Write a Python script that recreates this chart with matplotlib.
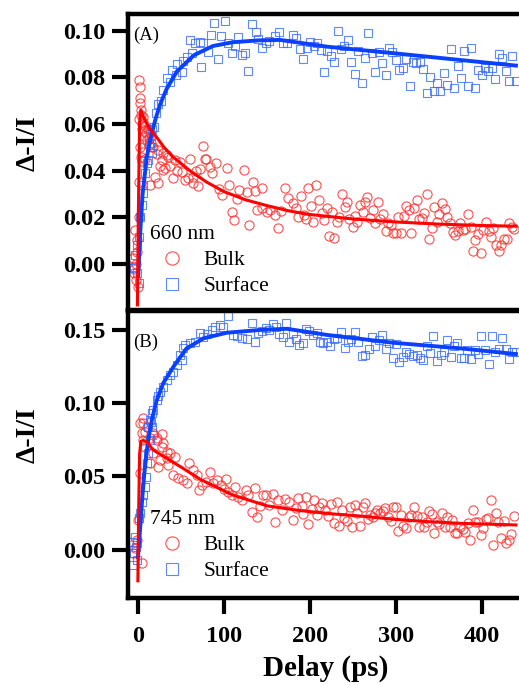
import matplotlib
matplotlib.use("Agg")
import matplotlib.pyplot as plt
from matplotlib.ticker import FormatStrFormatter

plt.rcParams['font.family'] = ['Liberation Serif', 'DejaVu Serif']

# ---------------- Panel A : 660 nm ----------------
a_surf_t = [-5.8, -4.6, -3.8, -1.9, -1.1, 1.2, 1.2, 2.0, 3.9, 5.1, 5.9, 7.8, 9.8, 11.7, 12.5,
            13.6, 14.5, 15.6, 16.5, 18.3, 20.6, 23.3, 26.0, 29.2, 33.1, 36.5, 39.7, 43.5, 45.5,
            50.5, 52.5, 56.4, 60.2, 62.2, 66.1, 71.9, 72.7, 75.8, 80.8, 84.3, 88.6, 93.2, 96.0,
            101.0, 104.9, 108.8, 112.7, 116.5, 120.4, 124.3, 128.2, 132.9, 136.7, 140.0,
            143.7, 148.8, 152.7, 159.3, 164.3, 168.2, 172.9, 179.9, 183.7, 188.4, 192.3, 196.2,
            200.0, 204.7, 208.6, 212.5, 216.4, 220.2, 224.1, 228.0, 232.3, 236.2, 240.0, 243.9,
            248.2, 252.1, 256.4, 260.2, 264.1, 268.0, 272.3, 276.2, 280.0, 283.9, 288.2, 292.1,
            296.0, 300.2, 304.1, 308.0, 311.9, 316.1, 320.0, 323.9, 327.8, 332.1, 336.0, 339.8,
            344.1, 348.0, 351.9, 355.8, 360.0, 363.9, 367.8, 372.1, 375.9, 379.8, 383.7, 388.0,
            391.9, 396.1, 400.0, 403.9, 407.8, 411.7, 415.9, 419.8, 423.7, 428.0, 431.9, 435.7,
            439.6]
a_surf_v = [-0.0019, -0.0012, 0.0038, -0.0040, 0.0081, 0.0117, -0.0083, 0.0203, 0.0253, 0.0303,
            0.0338, 0.0388, 0.0431, 0.0445, 0.0520, 0.0502, 0.0550, 0.0474, 0.0580, 0.0588,
            0.0648, 0.0685, 0.0700, 0.0745, 0.0795, 0.0780, 0.0831, 0.0810, 0.0857, 0.0824,
            0.0871, 0.0888, 0.0960, 0.0903, 0.0945, 0.0953, 0.0843, 0.0948, 0.0910, 0.0981,
            0.1034, 0.0877, 0.0977, 0.1042, 0.0948, 0.0905, 0.0935, 0.0971, 0.0895, 0.0903,
            0.0828, 0.1028, 0.0992, 0.0965,
            0.0924, 0.0945, 0.0957, 0.0977, 0.0992, 0.0945, 0.0948, 0.0982, 0.0970, 0.0921,
            0.0877, 0.0927, 0.0952, 0.0934, 0.0948, 0.0917, 0.0824, 0.0914, 0.0891, 0.0867,
            0.0999, 0.0921, 0.0934, 0.0960, 0.0867, 0.0814, 0.0914, 0.0777, 0.0884, 0.0991,
            0.0903, 0.0824, 0.0910, 0.0860, 0.0810, 0.0924, 0.0910, 0.0874, 0.0831, 0.0841,
            0.0878, 0.0764, 0.0867, 0.0860, 0.0867, 0.0834, 0.0731, 0.0800, 0.0741, 0.0774,
            0.0741, 0.0820, 0.0767, 0.0921, 0.0753, 0.0848, 0.0798, 0.0914, 0.0764, 0.0924,
            0.0755, 0.0831, 0.0810, 0.0841, 0.0828, 0.0838, 0.0793, 0.0898, 0.0884, 0.0827,
            0.0785, 0.0893, 0.0785]

a_bulk_t = [-5.8, -5.0, -4.5, -3.8, -3.0, -2.5, -1.9, -1.2, 0.0, 0.5, 1.0, 1.0, 1.2, 1.5, 2.0,
            2.2, 2.5, 3.0, 3.2, 3.5, 4.0, 4.2, 4.5, 5.0, 5.5, 6.0, 6.5, 7.0, 7.5, 8.0, 9.0, 10.0,
            11.0, 12.0, 13.0, 13.6, 14.0, 15.0, 16.0, 17.5, 19.5, 21.5, 23.4, 23.4, 25.5, 27.2,
            29.2, 29.2, 31.1, 33.1, 35.0, 37.0, 40.1, 42.8, 44.7, 48.6, 50.5, 54.4, 58.3, 60.2,
            63.3, 64.1, 67.0, 70.0, 71.9, 75.8, 77.7, 78.9, 83.5, 85.5, 90.5, 94.4, 97.1, 103.0,
            106.1, 108.8, 111.5, 114.6, 117.7, 123.1, 126.2, 129.4, 133.2, 136.0, 137.9,
            143.7, 143.7, 149.6, 153.4, 159.3, 163.2, 165.9, 170.9, 174.8, 179.9, 183.7, 186.5,
            189.2, 193.1, 195.4, 198.1, 200.8, 203.9, 207.0, 210.9, 213.6, 216.4, 219.5, 222.6,
            225.3, 228.0, 231.1, 234.2, 236.9, 240.8, 243.5, 245.9, 249.7, 252.5, 255.2, 258.3,
            261.4, 264.1, 266.8, 269.9, 273.0, 276.2, 278.9, 281.6, 285.5, 288.2, 291.3, 294.0,
            297.1, 300.2, 303.0, 306.0, 309.5, 311.9, 315.0, 318.1, 321.2, 324.3, 327.4, 330.5,
            332.8, 336.0, 339.1, 341.8, 344.5, 347.6, 350.7, 353.8, 357.3, 360.0, 363.1, 366.2,
            369.3, 372.5, 374.8, 377.9, 380.6, 383.7, 387.2, 389.5, 392.3, 395.4, 398.9, 402.0,
            405.1, 408.2, 410.5, 413.6, 416.7, 419.8, 422.9, 426.0, 429.1, 432.2, 435.4, 438.1]
a_bulk_v = [0.0024, -0.0020, -0.0040, 0.0145, -0.0070, 0.0000, 0.0103, 0.0050, -0.0097, 0.0200,
            0.0350, 0.0790, 0.0620, 0.0760, 0.0710, 0.0500, 0.0690, 0.0660, 0.0460, 0.0640,
            0.0600, 0.0440, 0.0580, 0.0630, 0.0480, 0.0610, 0.0570, 0.0550, 0.0450, 0.0590,
            0.0560, 0.0530, 0.0580, 0.0540, 0.0510, 0.0338, 0.0560, 0.0520, 0.0500, 0.0502,
            0.0374, 0.0470, 0.0488, 0.0345, 0.0420, 0.0445, 0.0474, 0.0403, 0.0410, 0.0467,
            0.0460, 0.0420, 0.0367, 0.0445, 0.0400, 0.0438, 0.0395, 0.0362, 0.0367, 0.0448,
            0.0345, 0.0374, 0.0400, 0.0334, 0.0405, 0.0506, 0.0448, 0.0448, 0.0417, 0.0388,
            0.0434, 0.0320, 0.0295, 0.0410, 0.0338, 0.0224, 0.0188, 0.0277, 0.0317, 0.0402,
            0.0310, 0.0167, 0.0352, 0.0313, 0.0231,
            0.0327, 0.0238, 0.0224, 0.0231, 0.0210, 0.0153, 0.0228, 0.0327, 0.0281, 0.0263,
            0.0238, 0.0203, 0.0291, 0.0210, 0.0191, 0.0324, 0.0248, 0.0181, 0.0338, 0.0274,
            0.0220, 0.0188, 0.0238, 0.0120, 0.0224, 0.0113, 0.0181, 0.0200, 0.0298, 0.0243,
            0.0267, 0.0191, 0.0157, 0.0205, 0.0181, 0.0253, 0.0224, 0.0267, 0.0285, 0.0195,
            0.0231, 0.0174, 0.0267, 0.0191, 0.0214, 0.0143, 0.0174, 0.0167, 0.0134, 0.0134,
            0.0203, 0.0134, 0.0205, 0.0248, 0.0231, 0.0134, 0.0238, 0.0274, 0.0191, 0.0195,
            0.0217, 0.0298, 0.0108, 0.0153, 0.0245, 0.0181, 0.0214, 0.0263, 0.0234, 0.0203,
            0.0177, 0.0138, 0.0124, 0.0143, 0.0177, 0.0146, 0.0148, 0.0214, 0.0157, 0.0055,
            0.0105, 0.0128, 0.0048, 0.0146, 0.0180, 0.0143, 0.0114, 0.0153, 0.0081, 0.0055,
            0.0081, 0.0108, 0.0108, 0.0177, 0.0160, 0.0148]

a_surf_fit_t = [0, 2, 5, 10, 15, 20, 25, 33, 45, 65, 87, 110, 140, 165, 220, 300, 375, 440]
a_surf_fit_v = [-0.005, 0.012, 0.030, 0.046, 0.055, 0.062, 0.068, 0.075, 0.0825, 0.0895,
                0.0934, 0.0950, 0.0958, 0.0960, 0.0931, 0.0902, 0.0874, 0.0850]
a_bulk_fit_t = [-1.0, 0, 1.5, 3, 6, 10, 15, 20, 30, 40, 50, 60, 80, 100, 125, 150, 175, 200,
                250, 300, 350, 400, 440]
a_bulk_fit_v = [-0.0175, 0.020, 0.060, 0.066, 0.063, 0.060, 0.057, 0.055, 0.050, 0.046, 0.043,
                0.040, 0.035, 0.031, 0.0275, 0.0250, 0.0228, 0.0212, 0.0193, 0.0180, 0.0171,
                0.0165, 0.0162]

# ---------------- Panel B : 745 nm ----------------
b_surf_t = [-5.8, -5.8, -4.6, -3.8, -2.7, -1.9, -1.0, 1.2, 2.0, 3.9, 5.9, 7.8, 9.0, 9.8, 11.7,
            11.7, 13.6, 13.6, 14.4, 15.6, 15.6, 17.5, 21.4, 23.4, 25.3, 29.2, 33.1, 36.9, 40.8,
            44.7, 48.6, 50.5, 51.7, 54.4, 60.2, 66.1, 71.9, 75.8, 79.7, 85.5, 89.4, 95.2, 99.1,
            104.9, 110.7, 115.5, 120.4, 127.0, 132.1, 136.0, 139.8,
            143.7, 148.8, 152.7, 156.6, 160.4, 164.3, 168.2, 172.1, 176.0, 179.9, 183.7, 187.6,
            191.5, 195.4, 199.3, 203.2, 207.8, 211.7, 215.6, 219.5, 223.3, 228.0, 231.9, 235.8,
            240.4, 244.3, 248.2, 252.1, 256.0, 260.2, 264.1, 268.4, 272.3, 276.2, 280.0, 283.9,
            288.6, 292.5, 296.3, 300.2, 304.1, 308.0, 311.9, 315.8, 319.6, 324.3, 328.2, 332.1,
            336.0, 339.8, 343.7, 347.6, 352.2, 356.1, 360.0, 363.9, 367.8, 371.7, 375.6, 379.4,
            383.3, 388.0, 391.9, 395.8, 399.6, 403.5, 408.2, 412.1, 415.9, 419.8, 423.7, 428.0,
            431.9, 435.7, 439.6]
b_surf_v = [-0.0102, 0.0057, -0.0023, 0.0091, 0.0023, -0.0068, 0.0050, 0.0215, 0.0249, 0.0329,
            0.0374, 0.0431, 0.0499, 0.0590, 0.0658, 0.0839, 0.0748, 0.0884, 0.0873, 0.0839,
            0.0930, 0.0952, 0.1020, 0.1050, 0.1077, 0.1110, 0.1156, 0.1190, 0.1213, 0.1258,
            0.1326, 0.1292, 0.1372, 0.1394, 0.1406, 0.1417, 0.1474, 0.1450, 0.1470, 0.1497,
            0.1519, 0.1531, 0.1519, 0.1592, 0.1462, 0.1455, 0.1440, 0.1433, 0.1542, 0.1417,
            0.1478,
            0.1492, 0.1512, 0.1495, 0.1537, 0.1519, 0.1467, 0.1451, 0.1546, 0.1417, 0.1478,
            0.1433, 0.1394, 0.1406, 0.1501, 0.1490, 0.1463, 0.1474, 0.1417, 0.1406, 0.1417,
            0.1388, 0.1433, 0.1440, 0.1485, 0.1376, 0.1417, 0.1433, 0.1485, 0.1417, 0.1320,
            0.1326, 0.1365, 0.1447, 0.1388, 0.1428, 0.1463, 0.1365, 0.1406, 0.1304, 0.1401,
            0.1281, 0.1311, 0.1349, 0.1333, 0.1320, 0.1326, 0.1304, 0.1292, 0.1388, 0.1338,
            0.1456, 0.1288, 0.1326, 0.1349, 0.1428, 0.1315, 0.1388, 0.1406, 0.1304, 0.1304,
            0.1360, 0.1297, 0.1360, 0.1333, 0.1456, 0.1360, 0.1265, 0.1456, 0.1349, 0.1365,
            0.1442, 0.1365, 0.1297, 0.1349, 0.1349]

b_bulk_t = [-5.8, -3.8, -1.9, 0.05, 2.0, 3.9, 2.0, 3.9, 5.1, 5.9, 5.9, 7.8, 7.8, 9.8, 13.6, 13.6,
            17.5, 17.5, 17.5, 21.4, 21.4, 23.4, 25.3, 27.2, 27.2, 29.2, 33.1, 33.1, 35.0, 36.9,
            40.8, 42.8, 46.7, 51.7, 57.1, 59.5, 63.3, 68.0, 71.1, 73.8, 78.9, 83.5, 87.4, 92.1,
            96.0, 99.8, 102.2, 104.9, 108.8, 112.7, 116.5, 120.4, 125.5, 128.2, 132.1, 136.0,
            137.9, 141.8, 144.9,
            148.8, 152.7, 156.6, 159.3, 163.2, 167.0, 170.9, 176.0, 179.9, 183.7, 186.5, 190.3,
            192.3, 195.4, 198.1, 202.0, 204.7, 207.8, 210.9, 213.6, 217.5, 221.4, 224.9, 228.0,
            231.1, 234.2, 236.9, 239.7, 243.5, 246.6, 249.4, 252.5, 255.2, 258.3, 261.4, 264.5,
            267.2, 270.3, 273.0, 275.8, 278.5, 281.6, 284.7, 287.8, 291.3, 294.0, 297.1, 300.2,
            302.9, 305.7, 308.8, 311.9, 315.0, 318.1, 321.2, 324.3, 327.0, 330.1, 333.2, 336.0,
            339.1, 342.2, 344.9, 348.0, 350.7, 353.8, 356.9, 360.0, 362.7, 365.8, 368.6, 371.7,
            374.8, 377.9, 380.6, 383.7, 386.8, 389.5, 392.7, 395.8, 398.9, 402.0, 404.7, 407.8,
            410.5, 413.6, 416.7, 419.4, 422.5, 425.6, 428.4, 431.5, 434.6, 437.7]
b_bulk_v = [-0.0023, 0.0011, 0.0068, 0.0204, 0.0522, -0.0091, 0.0862, 0.0794, 0.0862, 0.0896,
            0.0748, 0.0805, 0.0703, 0.0839, 0.0760, 0.0590, 0.0793, 0.0782, 0.0658, 0.0748,
            0.0759, 0.0567, 0.0612, 0.0789, 0.0700, 0.0726, 0.0669, 0.0624, 0.0578, 0.0658,
            0.0510, 0.0635, 0.0488, 0.0476, 0.0453, 0.0590, 0.0544, 0.0510, 0.0408, 0.0442,
            0.0465, 0.0533, 0.0458, 0.0476, 0.0442, 0.0413, 0.0481, 0.0397, 0.0374, 0.0431,
            0.0363, 0.0340, 0.0408, 0.0374, 0.0261, 0.0420, 0.0222, 0.0299, 0.0374,
            0.0374, 0.0306, 0.0381, 0.0193, 0.0340, 0.0272, 0.0345, 0.0329, 0.0204, 0.0283,
            0.0351, 0.0299, 0.0245, 0.0358, 0.0177, 0.0277, 0.0340, 0.0238, 0.0290, 0.0322,
            0.0272, 0.0231, 0.0313, 0.0186, 0.0329, 0.0163, 0.0272, 0.0215, 0.0200, 0.0290,
            0.0159, 0.0306, 0.0249, 0.0163, 0.0290, 0.0317, 0.0209, 0.0238, 0.0227, 0.0254,
            0.0272, 0.0249, 0.0268, 0.0283, 0.0222, 0.0200, 0.0295, 0.0295, 0.0131, 0.0238,
            0.0163, 0.0147, 0.0222, 0.0238, 0.0290, 0.0231, 0.0154, 0.0222, 0.0154, 0.0193,
            0.0268, 0.0245, 0.0113, 0.0193, 0.0177, 0.0249, 0.0154, 0.0227, 0.0159, 0.0204,
            0.0118, 0.0118, 0.0154, 0.0140, 0.0125, 0.0181, 0.0068, 0.0272, 0.0193, 0.0193,
            0.0102, 0.0147, 0.0209, 0.0215, 0.0340, 0.0034, 0.0254, 0.0193, 0.0079, 0.0200,
            0.0050, 0.0068, 0.0109, 0.0231]

b_surf_fit_t = [-0.5, 1, 3, 5, 7, 10, 13, 16, 21, 29, 41, 56, 76, 103, 142, 173, 220, 297, 375, 440]
b_surf_fit_v = [-0.005, 0.005, 0.022, 0.038, 0.052, 0.068, 0.080, 0.089, 0.101, 0.1134, 0.1247,
                0.1370, 0.1440, 0.1478, 0.1497, 0.1505, 0.1463, 0.1410, 0.1372, 0.1333]
b_bulk_fit_t = [-0.5, 0.5, 1.5, 3, 6, 10, 17.5, 33, 52, 72, 110, 150, 188, 227, 258, 297, 336,
                375, 440]
b_bulk_fit_v = [-0.021, 0.030, 0.065, 0.074, 0.0745, 0.0735, 0.068, 0.0624, 0.0556, 0.0481,
                0.0374, 0.0300, 0.0268, 0.0245, 0.0231, 0.0209, 0.0193, 0.0181, 0.0170]

x_ticks = [0, 100, 200, 300, 400]
a_yticks = [0.00, 0.02, 0.04, 0.06, 0.08, 0.10]
b_yticks = [0.00, 0.05, 0.10, 0.15]

# ---------------- drawing ----------------
W, H = 519, 685
fig = plt.figure(figsize=(W / 100, H / 100), dpi=100)

def fx(px):
    return px / W

def fy(py):
    return 1 - py / H

ax_a = fig.add_axes([fx(128), fy(310), fx(519) - fx(128), fy(14) - fy(310)])
ax_b = fig.add_axes([fx(128), fy(598), fx(519) - fx(128), fy(311) - fy(598)])

RED_PT = '#ff3030'
BLUE_PT = '#3a6cff'
RED_LINE = '#ff0000'
BLUE_LINE = '#0a40ff'

def panel(ax, st, sv, bt, bv, sft, sfv, bft, bfv, ylim, yticks, title, legend_top):
    hb, = ax.plot(bt, bv, 'o', ms=6.6, mfc='none', mec=RED_PT, mew=0.8, alpha=0.85,
                  zorder=2, label='Bulk')
    hs, = ax.plot(st, sv, 's', ms=6.0, mfc='none', mec=BLUE_PT, mew=0.8, alpha=0.8,
                  zorder=2, label='Surface')
    ax.plot(sft, sfv, '-', color=BLUE_LINE, lw=2.8, zorder=3)
    ax.plot(bft, bfv, '-', color=RED_LINE, lw=2.2, zorder=4)
    ax.set_xlim(-12.0, 443.6)
    ax.set_ylim(*ylim)
    ax.set_xticks(x_ticks)
    ax.set_yticks(yticks)
    ax.yaxis.set_major_formatter(FormatStrFormatter('%.2f'))
    for side in ('left', 'top', 'bottom'):
        ax.spines[side].set_linewidth(3.2)
    ax.spines['right'].set_visible(False)
    ax.tick_params(axis='both', direction='out', length=11.5, width=3.0, labelsize=17.5)
    ax.tick_params(axis='y', pad=5)
    ax.tick_params(axis='x', pad=9)
    for t in ax.get_xticklabels() + ax.get_yticklabels():
        t.set_fontweight('bold')
    leg = ax.legend(handles=[hb, hs], title=title, loc='upper left', frameon=False,
                    fontsize=15.5, title_fontsize=15.5, alignment='left', markerscale=1.45,
                    handlelength=2.0, handletextpad=0.5, labelspacing=0.28, borderpad=0.0,
                    borderaxespad=0.0,
                    bbox_to_anchor=(fx(150), fy(legend_top)),
                    bbox_transform=fig.transFigure)
    leg.set_zorder(5)
    return ax

panel(ax_a, a_surf_t, a_surf_v, a_bulk_t, a_bulk_v, a_surf_fit_t, a_surf_fit_v,
      a_bulk_fit_t, a_bulk_fit_v, (-0.0197, 0.1071), a_yticks, '660 nm', 225)
panel(ax_b, b_surf_t, b_surf_v, b_bulk_t, b_bulk_v, b_surf_fit_t, b_surf_fit_v,
      b_bulk_fit_t, b_bulk_fit_v, (-0.0327, 0.1626), b_yticks, '745 nm', 510)
ax_a.tick_params(axis='x', labelbottom=False)

fig.text(fx(133), fy(35), '(A)', ha='left', va='center', fontsize=13.5)
fig.text(fx(133), fy(342), '(B)', ha='left', va='center', fontsize=13.5)

fig.text(fx(28), fy(143), 'Δ-I/I', rotation=90, ha='center', va='center',
         fontsize=20, fontweight='bold')
fig.text(fx(28), fy(435), 'Δ-I/I', rotation=90, ha='center', va='center',
         fontsize=20, fontweight='bold')
fig.text(fx(326), fy(668), 'Delay (ps)', ha='center', va='center',
         fontsize=21, fontweight='bold')

fig.savefig('out.png', dpi=100)
